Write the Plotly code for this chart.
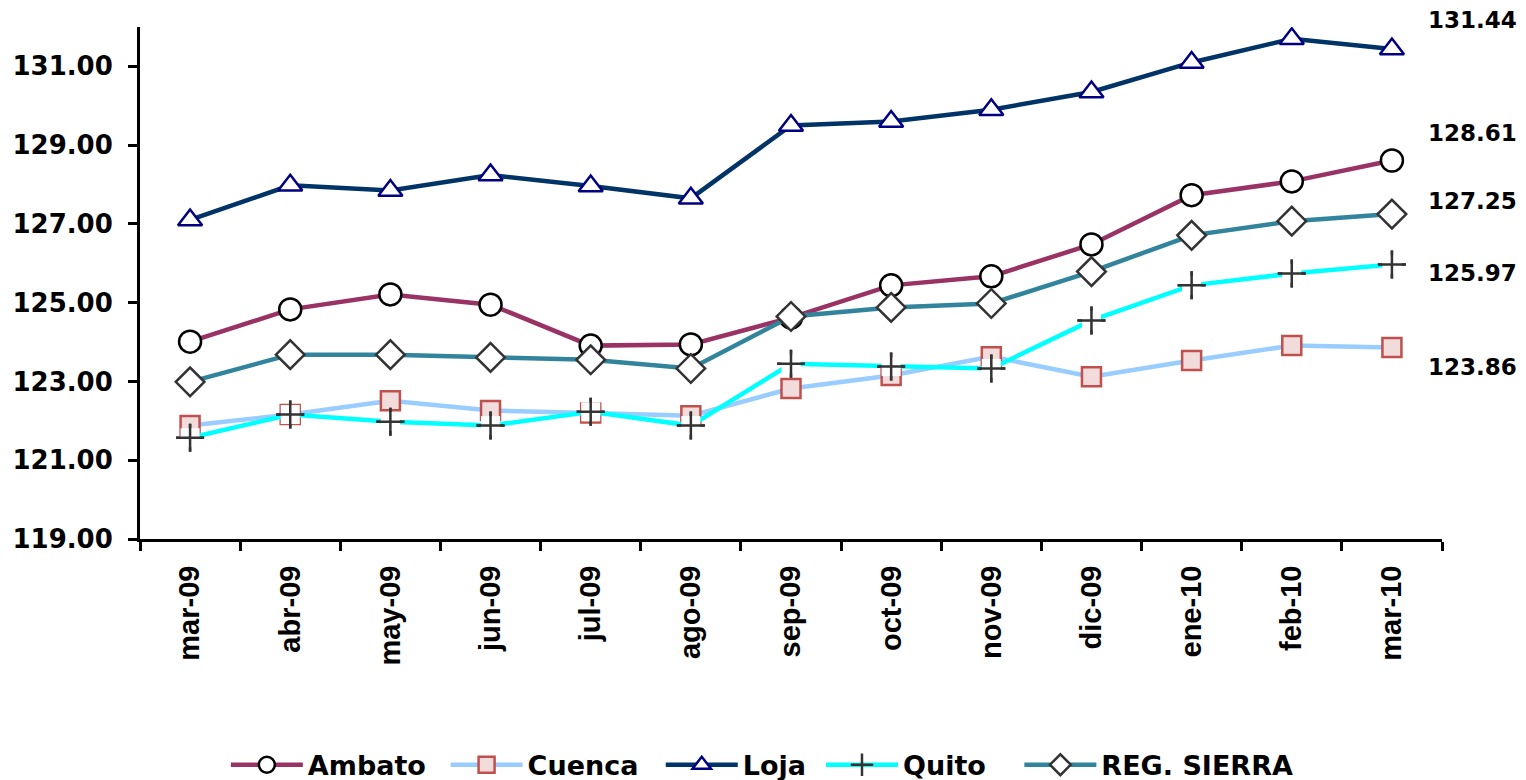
import plotly.graph_objects as go

months = ["mar-09", "abr-09", "may-09", "jun-09", "jul-09", "ago-09", "sep-09",
          "oct-09", "nov-09", "dic-09", "ene-10", "feb-10", "mar-10"]

ambato = [124.01, 124.83, 125.21, 124.95, 123.91, 123.94, 124.62, 125.44, 125.67, 126.48, 127.73, 128.08, 128.61]
cuenca = [121.88, 122.16, 122.51, 122.26, 122.20, 122.13, 122.82, 123.15, 123.63, 123.12, 123.53, 123.91, 123.86]
loja = [127.10, 127.98, 127.85, 128.24, 127.96, 127.65, 129.50, 129.60, 129.90, 130.35, 131.10, 131.70, 131.44]
quito = [121.57, 122.16, 121.98, 121.88, 122.23, 121.88, 123.45, 123.38, 123.33, 124.55, 125.44, 125.74, 125.97]
sierra = [122.99, 123.68, 123.68, 123.61, 123.55, 123.33, 124.65, 124.88, 124.98, 125.79, 126.71, 127.07, 127.25]

y_ticks = [119, 121, 123, 125, 127, 129, 131]

HFONT = "DejaVu Sans"
XFONT = "Liberation Sans, Arial"

series = [
    ("Ambato", ambato, "#993366", dict(symbol="circle", size=22, color="white", line=dict(color="black", width=2.5))),
    ("Cuenca", cuenca, "#99CCFF", dict(symbol="square", size=19, color="#F2DCDB", line=dict(color="#C0504D", width=2.5))),
    ("Loja", loja, "#003366", dict(symbol="triangle-up", size=21, color="white", line=dict(color="#000080", width=2.5))),
    ("Quito", quito, "#00FFFF", dict(symbol="cross-thin", size=20, color="#333333", line=dict(color="#333333", width=2.5))),
    ("REG. SIERRA", sierra, "#31849B", dict(symbol="diamond", size=22, color="white", line=dict(color="#333333", width=2.5))),
]
# left edge (container fraction) of each legend entry
legend_x = [0.148, 0.292, 0.433, 0.538, 0.668]
legend_ids = ["legend", "legend2", "legend3", "legend4", "legend5"]

fig = go.Figure()
for (name, vals, col, mk), lid in zip(series, legend_ids):
    fig.add_trace(go.Scatter(x=months, y=vals, name=name, mode="lines+markers",
                             line=dict(color=col, width=4.5), marker=mk, legend=lid))
    if name == "Quito":
        # white box behind the '+' marker (as in the original), then the marker on top
        fig.add_trace(go.Scatter(x=months, y=vals, mode="markers", showlegend=False, hoverinfo="skip",
                                 marker=dict(symbol="square", size=19, color="white")))
        fig.add_trace(go.Scatter(x=months, y=vals, mode="markers", showlegend=False, hoverinfo="skip",
                                 marker=mk))

# right side value labels (last values)
label_pos = [(loja, 1.014), (ambato, 0.793), (sierra, 0.660), (quito, 0.520), (cuenca, 0.336)]
for vals, py in label_pos:
    fig.add_annotation(text=f"{vals[-1]:.2f}", xref="paper", yref="paper", x=1.0595, y=py,
                       showarrow=False, xanchor="right", yanchor="middle",
                       font=dict(family=HFONT, size=23, color="black", weight="bold"))

legend_common = dict(orientation="h", xref="container", yref="container", xanchor="left",
                     y=0.019, yanchor="middle", itemwidth=72, bgcolor="rgba(0,0,0,0)",
                     font=dict(family=HFONT, size=27, color="black", weight="bold"))

fig.update_layout(
    width=1526, height=780,
    margin=dict(l=140, r=84, t=27, b=241),
    plot_bgcolor="white", paper_bgcolor="white",
    showlegend=True,
    **{lid: dict(x=lx, **legend_common) for lid, lx in zip(legend_ids, legend_x)},
)
fig.update_xaxes(type="category", showline=True, linecolor="black", linewidth=3,
                 ticks="outside", ticklen=9, tickwidth=2.5, tickcolor="black",
                 tickson="boundaries", tickangle=-90, showgrid=False, zeroline=False,
                 ticklabelstandoff=12,
                 tickfont=dict(family=XFONT, size=29, color="black", weight="bold"),
                 range=[-0.5, len(months) - 0.5])
fig.update_yaxes(range=[119, 132], tickvals=y_ticks, ticktext=[f"{v:.2f}" for v in y_ticks],
                 showline=True, linecolor="black", linewidth=3, ticks="outside", ticklen=9,
                 tickwidth=2.5, tickcolor="black", showgrid=False, zeroline=False,
                 ticklabelstandoff=10,
                 tickfont=dict(family=HFONT, size=26, color="black", weight="bold"))

fig.write_html("out.html", config={"displayModeBar": False},
               post_script="document.body.style.margin='0';document.body.style.overflow='hidden';")
